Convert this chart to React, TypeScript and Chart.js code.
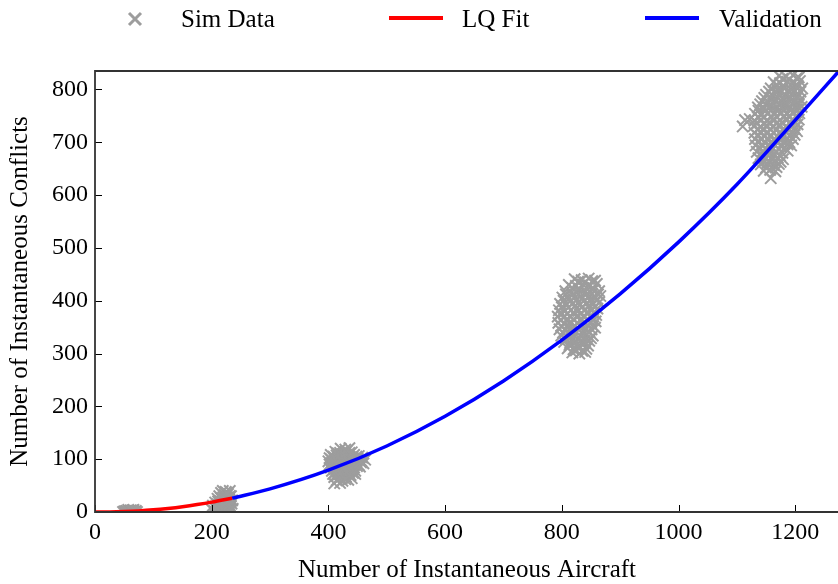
import React, { useEffect, useRef } from "react";
import { Chart, registerables } from "chart.js";

Chart.register(...registerables);

// ---- Data ----
const lqX = [0, 25, 50, 75, 100, 125, 150, 175, 200, 235];
const lqY = [0, 0.1, 0.8, 2.1, 4.1, 6.8, 10.1, 14.1, 18.7, 26.2];

const valX = [235, 300, 400, 500, 600, 700, 800, 900, 1000, 1100, 1200, 1275];
const valY = [26.2, 43.7, 79.1, 125, 181.3, 248.1, 325.3, 412.9, 511, 620, 742, 835];

const simCluster1: [number, number][] = [
  [48, 0], [52, 1], [55, 0], [58, 2], [60, 1], [62, 0], [64, 3], [66, 1], [68, 0],
  [70, 2], [57, 4], [61, 3], [54, 2], [66, 4], [50, 1], [72, 0], [59, 0], [63, 2],
];

const simCluster2: [number, number][] = [
  [200, 5], [202, 12], [204, 2], [206, 18], [208, 8], [210, 25], [210, 0], [212, 14],
  [213, 30], [214, 4], [215, 20], [216, 36], [217, 10], [218, 26], [219, 40], [220, 16],
  [221, 3], [222, 32], [223, 22], [224, 38], [225, 12], [226, 28], [227, 6], [228, 34],
  [229, 18], [230, 24], [231, 40], [232, 10], [233, 30], [234, 16], [235, 22], [236, 6],
  [222, 0], [228, 2], [214, 12], [207, 10], [211, 20], [219, 8], [224, 18], [230, 14],
  [233, 4], [226, 36], [220, 28], [216, 26], [209, 15], [231, 30],
];

const simCluster3: [number, number][] = [
  [421, 120], [429, 118], [436, 121],
  [412, 114], [420, 112], [431, 115], [440, 113],
  [404, 108], [414, 107], [424, 109], [434, 106], [444, 108], [452, 106],
  [402, 102], [410, 101], [420, 103], [430, 100], [440, 102], [450, 101], [458, 103],
  [400, 96], [408, 95], [418, 97], [428, 94], [438, 96], [448, 95], [456, 97], [463, 99],
  [402, 90], [412, 89], [422, 91], [432, 88], [442, 90], [452, 89], [460, 92],
  [404, 84], [414, 83], [424, 85], [434, 82], [444, 84], [454, 86],
  [406, 78], [416, 77], [426, 79], [436, 76], [446, 78],
  [408, 72], [418, 71], [428, 73], [438, 70], [446, 72],
  [410, 66], [420, 65], [430, 67], [440, 64],
  [414, 60], [424, 59], [434, 61],
  [410, 54], [420, 55],
  [416, 111], [426, 110], [436, 112],
  [409, 105], [419, 104], [429, 106], [439, 104], [448, 105],
  [405, 99], [414, 98], [424, 100], [434, 98], [444, 99], [453, 98],
  [406, 93], [417, 92], [427, 93], [437, 92], [447, 93], [456, 94],
  [408, 87], [419, 86], [429, 88], [439, 86], [449, 87],
  [410, 81], [421, 80], [431, 82], [441, 80],
  [412, 75], [422, 74], [432, 76], [442, 74],
  [414, 69], [425, 68], [435, 70],
  [418, 63], [429, 62],
];

const simCluster4: [number, number][] = [
  [822, 441], [834, 439], [846, 442], [857, 438],
  [812, 430], [824, 428], [836, 431], [848, 429], [860, 432],
  [806, 418], [817, 416], [829, 419], [841, 417], [853, 420], [864, 418],
  [801, 406], [812, 404], [823, 407], [835, 405], [847, 408], [858, 406], [866, 409],
  [797, 394], [808, 392], [819, 395], [831, 393], [843, 396], [854, 394], [864, 397],
  [795, 382], [805, 380], [816, 383], [828, 381], [840, 384], [851, 382], [861, 385],
  [793, 370], [803, 368], [814, 371], [826, 369], [838, 372], [849, 370], [859, 373],
  [794, 358], [804, 356], [815, 359], [827, 357], [839, 360], [850, 358], [858, 361],
  [796, 346], [806, 344], [817, 347], [829, 345], [840, 348], [851, 346], [857, 349],
  [799, 334], [809, 332], [820, 335], [832, 333], [843, 336], [853, 334],
  [804, 322], [814, 320], [825, 323], [836, 321], [847, 324],
  [810, 310], [820, 308], [831, 311], [842, 309],
  [818, 302], [830, 300], [840, 303],
  [828, 436], [840, 435], [852, 437],
  [818, 424], [830, 423], [842, 425], [854, 424],
  [807, 412], [818, 411], [829, 413], [841, 411], [852, 413], [862, 412],
  [803, 400], [814, 399], [825, 401], [837, 399], [849, 401], [860, 400],
  [800, 388], [811, 387], [822, 389], [834, 387], [846, 389], [857, 388],
  [798, 376], [809, 375], [820, 377], [832, 375], [844, 377], [855, 376],
  [798, 364], [809, 363], [820, 365], [832, 363], [844, 365], [854, 364],
  [799, 352], [810, 351], [822, 353], [834, 351], [845, 353], [854, 352],
  [802, 340], [813, 339], [825, 341], [836, 339], [847, 341],
  [807, 328], [818, 327], [830, 329], [841, 327], [850, 329],
  [813, 316], [824, 315], [836, 317], [845, 315],
  [824, 306], [835, 305],
];

const simCluster5: [number, number][] = [
  [1172, 826], [1184, 824], [1196, 827], [1206, 823],
  [1163, 814], [1174, 812], [1186, 815], [1198, 813], [1208, 816],
  [1158, 802], [1169, 800], [1180, 803], [1192, 801], [1203, 804], [1212, 802],
  [1150, 790], [1161, 788], [1172, 791], [1184, 789], [1195, 792], [1206, 790],
  [1143, 778], [1154, 776], [1165, 779], [1177, 777], [1188, 780], [1199, 778], [1209, 781],
  [1136, 766], [1147, 764], [1158, 767], [1170, 765], [1181, 768], [1192, 766], [1203, 769], [1211, 767],
  [1131, 754], [1142, 752], [1153, 755], [1164, 753], [1175, 756], [1186, 754], [1197, 757], [1207, 755],
  [1114, 742], [1122, 744], [1130, 741], [1141, 743], [1152, 740], [1163, 744], [1174, 742], [1185, 745], [1196, 741], [1206, 743],
  [1110, 730], [1129, 731], [1140, 729], [1151, 732], [1162, 730], [1173, 733], [1184, 729], [1195, 731], [1204, 734],
  [1130, 718], [1141, 720], [1152, 717], [1163, 719], [1174, 716], [1185, 720], [1196, 718], [1203, 721],
  [1131, 706], [1142, 708], [1153, 705], [1164, 707], [1175, 704], [1186, 708], [1196, 706],
  [1132, 694], [1143, 696], [1154, 693], [1165, 695], [1176, 692], [1187, 696], [1193, 694],
  [1134, 682], [1145, 684], [1156, 681], [1167, 683], [1178, 680], [1187, 684],
  [1137, 670], [1148, 672], [1159, 669], [1170, 671], [1179, 668],
  [1141, 658], [1152, 660], [1163, 657], [1172, 659],
  [1146, 646], [1157, 648], [1166, 645],
  [1158, 632],
  [1178, 820], [1190, 819], [1202, 821],
  [1168, 808], [1180, 807], [1192, 809], [1204, 808],
  [1155, 796], [1166, 795], [1177, 797], [1189, 795], [1200, 797], [1209, 796],
  [1147, 784], [1158, 783], [1170, 785], [1181, 783], [1192, 785], [1203, 784],
  [1140, 772], [1151, 771], [1162, 773], [1174, 771], [1185, 773], [1196, 772], [1206, 774],
  [1137, 760], [1148, 759], [1159, 761], [1170, 759], [1181, 761], [1192, 760], [1203, 762],
  [1136, 748], [1147, 747], [1158, 749], [1169, 747], [1180, 749], [1191, 748], [1201, 750],
  [1135, 736], [1146, 735], [1157, 737], [1168, 735], [1179, 737], [1190, 736], [1200, 738],
  [1135, 724], [1146, 723], [1157, 725], [1168, 723], [1179, 725], [1190, 724], [1199, 726],
  [1136, 712], [1147, 711], [1158, 713], [1169, 711], [1180, 713], [1191, 712], [1199, 714],
  [1137, 700], [1148, 699], [1159, 701], [1170, 699], [1181, 701], [1190, 700],
  [1139, 688], [1150, 687], [1161, 689], [1172, 687], [1182, 689],
  [1142, 676], [1153, 675], [1164, 677], [1174, 675],
  [1145, 664], [1156, 663], [1166, 665], [1175, 663],
  [1150, 652], [1160, 651], [1168, 653],
];

const xTickValues = [0, 200, 400, 600, 800, 1000, 1200];
const yTickValues = [0, 100, 200, 300, 400, 500, 600, 700, 800];
const xMax = 1275;
const yMax = 835;

const legendLabels = ["Sim Data", "LQ Fit", "Validation"];
const xTitle = "Number of Instantaneous Aircraft";
const yTitle = "Number of Instantaneous Conflicts";

const FONT = "'Liberation Serif', 'Times New Roman', Times, serif";
const GREY = "#9d9d9d";
const CANVAS_W = 849;
const CANVAS_H = 584;

const toPts = (xs: number[], ys: number[]) => xs.map((x, i) => ({ x, y: ys[i] }));
const pairPts = (arr: [number, number][]) => arr.map(([x, y]) => ({ x, y }));

const framePlugin = {
  id: "frame",
  afterDatasetsDraw(chart: any) {
    const { ctx, chartArea } = chart;
    const { left, right, top, bottom } = chartArea;
    const xs = chart.scales.x;
    const ys = chart.scales.y;
    ctx.save();
    ctx.strokeStyle = "#000";
    ctx.lineWidth = 1;
    xs.ticks.forEach((t: any) => {
      const px = Math.round(xs.getPixelForValue(t.value)) + 0.5;
      ctx.beginPath();
      ctx.moveTo(px, bottom);
      ctx.lineTo(px, bottom - 7);
      ctx.stroke();
    });
    ys.ticks.forEach((t: any) => {
      const py = Math.round(ys.getPixelForValue(t.value)) + 0.5;
      ctx.beginPath();
      ctx.moveTo(left, py);
      ctx.lineTo(left + 7, py);
      ctx.stroke();
    });
    ctx.strokeStyle = "#333";
    ctx.lineWidth = 1.8;
    ctx.beginPath();
    ctx.rect(left, top, right - left, bottom - top);
    ctx.stroke();
    ctx.restore();
  },
  afterDraw(chart: any) {
    const { ctx } = chart;
    ctx.save();
    const cy = 19;
    ctx.strokeStyle = GREY;
    ctx.lineWidth = 3;
    ctx.beginPath();
    ctx.moveTo(129, cy - 6);
    ctx.lineTo(141, cy + 6);
    ctx.moveTo(141, cy - 6);
    ctx.lineTo(129, cy + 6);
    ctx.stroke();
    ctx.strokeStyle = "#ff0000";
    ctx.lineWidth = 4;
    ctx.beginPath();
    ctx.moveTo(389, 18);
    ctx.lineTo(443, 18);
    ctx.stroke();
    ctx.strokeStyle = "#0000ff";
    ctx.beginPath();
    ctx.moveTo(645, 18);
    ctx.lineTo(699, 18);
    ctx.stroke();
    ctx.fillStyle = "#000";
    ctx.font = `25px ${FONT}`;
    ctx.textBaseline = "alphabetic";
    ctx.textAlign = "left";
    ctx.fillText(legendLabels[0], 181, 27);
    ctx.fillText(legendLabels[1], 462, 27);
    ctx.fillText(legendLabels[2], 719, 27);
    ctx.restore();
  },
};

export default function App() {
  const canvasRef = useRef<HTMLCanvasElement | null>(null);

  useEffect(() => {
    document.body.style.margin = "0";
    const canvas = canvasRef.current;
    if (!canvas) return;
    const scatterStyle = {
      type: "scatter" as const,
      pointStyle: "crossRot",
      pointRadius: 8,
      pointBorderWidth: 2,
      borderColor: GREY,
      backgroundColor: GREY,
      pointHoverRadius: 8,
      showLine: false,
      clip: 0,
      order: 2,
    };
    const chart = new Chart(canvas, {
      type: "scatter",
      data: {
        datasets: [
          { ...scatterStyle, label: "Sim Data", data: pairPts(simCluster1) },
          { ...scatterStyle, label: "Sim Data 2", data: pairPts(simCluster2) },
          { ...scatterStyle, label: "Sim Data 3", data: pairPts(simCluster3) },
          { ...scatterStyle, label: "Sim Data 4", data: pairPts(simCluster4) },
          { ...scatterStyle, label: "Sim Data 5", data: pairPts(simCluster5) },
          {
            type: "line",
            label: "Validation",
            data: toPts(valX, valY),
            borderColor: "#0000ff",
            borderWidth: 3.5,
            pointRadius: 0,
            cubicInterpolationMode: "monotone",
            fill: false,
            clip: 0,
            order: 1,
          } as any,
          {
            type: "line",
            label: "LQ Fit",
            data: toPts(lqX, lqY),
            borderColor: "#ff0000",
            borderWidth: 3.5,
            pointRadius: 0,
            cubicInterpolationMode: "monotone",
            fill: false,
            clip: 0,
            order: 0,
          } as any,
        ],
      },
      options: {
        animation: false,
        responsive: false,
        maintainAspectRatio: false,
        devicePixelRatio: 1,
        layout: { padding: { top: 71, right: 6, left: 0, bottom: 0 } },
        plugins: { legend: { display: false }, tooltip: { enabled: false } },
        scales: {
          x: {
            type: "linear",
            min: 0,
            max: xMax,
            grid: { display: false, drawTicks: false },
            border: { display: false },
            afterBuildTicks: (s: any) => {
              s.ticks = xTickValues.map((v) => ({ value: v }));
            },
            ticks: {
              padding: 6,
              color: "#000",
              font: { family: FONT, size: 24 },
              maxRotation: 0,
              autoSkip: false,
              callback: (v: any) => String(v),
            },
            title: {
              display: true,
              text: xTitle,
              color: "#000",
              font: { family: FONT, size: 25, lineHeight: 1 },
              padding: { top: 0, bottom: 1 },
            },
            afterFit: (s: any) => {
              s.height = 72;
              s.paddingLeft = 0;
              s.paddingRight = 0;
            },
          },
          y: {
            type: "linear",
            min: 0,
            max: yMax,
            grid: { display: false, drawTicks: false },
            border: { display: false },
            afterBuildTicks: (s: any) => {
              s.ticks = yTickValues.map((v) => ({ value: v }));
            },
            ticks: {
              padding: 7,
              color: "#000",
              font: { family: FONT, size: 24 },
              autoSkip: false,
              callback: (v: any) => String(v),
            },
            title: {
              display: true,
              text: yTitle,
              color: "#000",
              font: { family: FONT, size: 25, lineHeight: 1 },
              padding: { top: 8, bottom: 0 },
            },
            afterFit: (s: any) => {
              s.width = 95;
              s.paddingTop = 0;
              s.paddingBottom = 0;
            },
          },
        },
      },
      plugins: [framePlugin],
    });
    return () => chart.destroy();
  }, []);

  return (
    <div style={{ position: "absolute", left: 0, top: 0, width: 838, height: 584, overflow: "hidden", background: "#fff" }}>
      <canvas ref={canvasRef} width={CANVAS_W} height={CANVAS_H} style={{ display: "block", width: CANVAS_W, height: CANVAS_H }} />
    </div>
  );
}
